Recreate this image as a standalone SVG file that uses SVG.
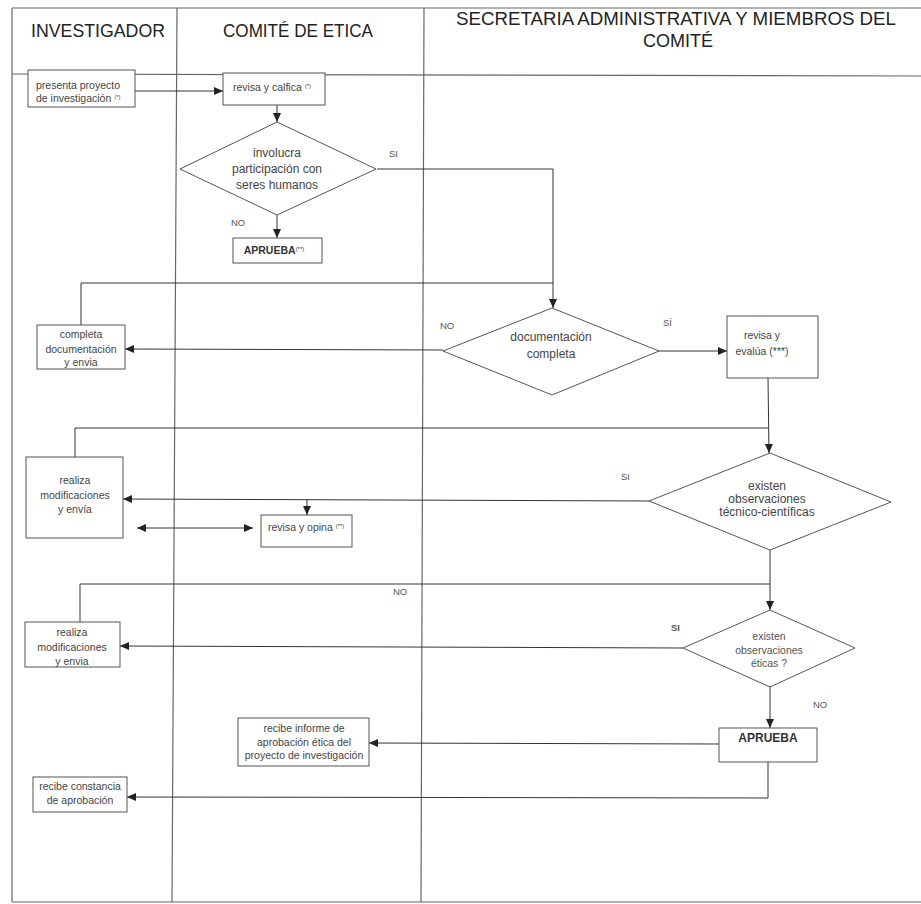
<svg xmlns="http://www.w3.org/2000/svg" width="921" height="904" viewBox="0 0 921 904">
<defs>
<marker id="arr" viewBox="0 0 9 8" refX="9" refY="4" markerWidth="9" markerHeight="8" markerUnits="userSpaceOnUse" orient="auto-start-reverse">
<path d="M0,0 L9,4 L0,8 z" fill="#222"/>
</marker>
<style>
.frame{stroke:#666;stroke-width:1.2;fill:none}
.hd{font-family:"Liberation Sans",Arial,sans-serif;font-size:17.5px;fill:#222}
.box{fill:#fff;stroke:#555;stroke-width:1}
.dia{fill:#fff;stroke:#555;stroke-width:1}
.t{font-family:"Liberation Sans",Arial,sans-serif;font-size:10.5px;fill:#444;text-anchor:middle}
.tl{font-family:"Liberation Sans",Arial,sans-serif;font-size:10.5px;fill:#444}
.td{font-family:"Liberation Sans",Arial,sans-serif;font-size:12px;fill:#444;text-anchor:middle}
.b{font-family:"Liberation Sans",Arial,sans-serif;font-weight:bold;fill:#333;text-anchor:middle}
.sup{font-size:6px}
.lbl{font-family:"Liberation Sans",Arial,sans-serif;font-size:9.5px;fill:#555}
.c{stroke:#333;stroke-width:1;fill:none}
.a{marker-end:url(#arr)}
</style>
</defs>
<rect width="921" height="904" fill="#fff"/>
<g id="frame">
<line class="frame" x1="12" y1="8" x2="921" y2="8"/>
<line class="frame" x1="12" y1="74" x2="921" y2="76"/>
<line class="frame" x1="12" y1="8" x2="12" y2="902"/>
<line class="frame" x1="12" y1="902" x2="921" y2="902"/>
<line class="frame" x1="177" y1="8" x2="172" y2="902"/>
<line class="frame" x1="424" y1="8" x2="421" y2="902"/>
<text class="hd" x="31" y="37" textLength="134" lengthAdjust="spacingAndGlyphs">INVESTIGADOR</text>
<text class="hd" x="223" y="37" textLength="150" lengthAdjust="spacingAndGlyphs">COMITÉ DE ETICA</text>
<text class="hd" x="456" y="25" textLength="440" lengthAdjust="spacingAndGlyphs">SECRETARIA ADMINISTRATIVA Y MIEMBROS DEL</text>
<text class="hd" x="643" y="47" textLength="70" lengthAdjust="spacingAndGlyphs">COMITÉ</text>
</g>
<g id="connectors">
<line class="c a" x1="135" y1="91" x2="223" y2="91"/>
<line class="c a" x1="277" y1="105" x2="277" y2="122"/>
<line class="c a" x1="277" y1="215" x2="277" y2="238"/>
<polyline class="c a" points="377,169 553,169 553,308"/>
<polyline class="c" points="81,325 81,283 553,283"/>
<line class="c a" x1="443" y1="350" x2="125" y2="349"/>
<line class="c a" x1="659" y1="351" x2="727" y2="351"/>
<line class="c a" x1="768" y1="378" x2="769" y2="453"/>
<polyline class="c" points="75,457 75,428 768,428"/>
<line class="c a" x1="649" y1="501" x2="123" y2="499"/>
<line class="c a" x1="307" y1="499" x2="307" y2="515"/>
<line class="c a" x1="137" y1="528" x2="253" y2="528" marker-start="url(#arr)"/>
<line class="c a" x1="770" y1="550" x2="770" y2="610"/>
<polyline class="c" points="80,622 80,584 770,584"/>
<line class="c a" x1="683" y1="648" x2="120" y2="646"/>
<line class="c a" x1="770" y1="687" x2="770" y2="728"/>
<line class="c a" x1="719" y1="744" x2="369" y2="743"/>
<polyline class="c a" points="768,762 768,798 127,797"/>
</g>
<g id="presenta">
<rect class="box" x="28" y="70" width="107" height="37"/>
<text class="tl" x="36" y="89">presenta proyecto</text>
<text class="tl" x="36" y="102">de investigación <tspan class="sup" dy="-3">(*)</tspan></text>
</g>
<g id="revisa-califica">
<rect class="box" x="223" y="73" width="102" height="32"/>
<text class="t" x="272" y="91">revisa y calfica <tspan class="sup" dy="-3">(*)</tspan></text>
</g>
<g id="involucra">
<polygon class="dia" points="277,122 376,169 277,215 180,169"/>
<text class="td" x="277" y="157">involucra</text>
<text class="td" x="277" y="173">participación con</text>
<text class="td" x="277" y="189">seres humanos</text>
</g>
<g id="aprueba1">
<rect class="box" x="233" y="238" width="89" height="25"/>
<text class="b" x="274" y="254" font-size="10.5">APRUEBA<tspan class="sup" dy="-3" font-weight="normal">(**)</tspan></text>
</g>
<g id="completa">
<rect class="box" x="37" y="325" width="88" height="44"/>
<text class="t" x="81" y="338">completa</text>
<text class="t" x="81" y="353">documentación</text>
<text class="t" x="81" y="366">y envia</text>
</g>
<g id="documentacion">
<polygon class="dia" points="552,308 659,351 552,395 443,351"/>
<text class="td" x="551" y="341">documentación</text>
<text class="td" x="551" y="358">completa</text>
</g>
<g id="revisa-evalua">
<rect class="box" x="727" y="316" width="91" height="62"/>
<text class="t" x="762" y="339" font-size="11">revisa  y</text>
<text class="t" x="762" y="355" font-size="11">evalúa (***)</text>
</g>
<g id="realiza1">
<rect class="box" x="26" y="457" width="97" height="81"/>
<text class="t" x="75" y="484">realiza</text>
<text class="t" x="75" y="499">modificaciones</text>
<text class="t" x="75" y="513">y envía</text>
</g>
<g id="tecnico">
<polygon class="dia" points="770,453 891,502 770,550 649,501"/>
<text class="td" x="767" y="490" font-size="11.5">existen</text>
<text class="td" x="767" y="503" font-size="11.5">observaciones</text>
<text class="td" x="767" y="516" font-size="11.5">técnico-científicas</text>
</g>
<g id="revisa-opina">
<rect class="box" x="261" y="515" width="91" height="32"/>
<text class="tl" x="268" y="531">revisa y opina <tspan class="sup" dy="-3">(**)</tspan></text>
</g>
<g id="realiza2">
<rect class="box" x="25" y="622" width="95" height="45"/>
<text class="t" x="72" y="636">realiza</text>
<text class="t" x="72" y="651">modificaciones</text>
<text class="t" x="72" y="665">y envia</text>
</g>
<g id="eticas">
<polygon class="dia" points="770,610 855,648 770,687 683,648"/>
<text class="t" x="769" y="640" style="fill:#555">existen</text>
<text class="t" x="769" y="654" style="fill:#555">observaciones</text>
<text class="t" x="769" y="667" style="fill:#555">éticas ?</text>
</g>
<g id="aprueba2">
<rect class="box" x="719" y="728" width="98" height="34"/>
<text class="b" x="768" y="742" font-size="12">APRUEBA</text>
</g>
<g id="informe">
<rect class="box" x="238" y="718" width="131" height="48"/>
<text class="t" x="304" y="732">recibe informe de</text>
<text class="t" x="304" y="746">aprobación ética del</text>
<text class="t" x="304" y="759">proyecto de investigación</text>
</g>
<g id="constancia">
<rect class="box" x="33" y="777" width="94" height="35"/>
<text class="t" x="80" y="790" font-size="11">recibe constancia</text>
<text class="t" x="80" y="804" font-size="11">de aprobación</text>
</g>
<g id="labels">
<text class="lbl" x="231" y="226">NO</text>
<text class="lbl" x="389" y="157">SI</text>
<text class="lbl" x="440" y="329">NO</text>
<text class="lbl" x="663" y="326">SÍ</text>
<text class="lbl" x="621" y="480">SI</text>
<text class="lbl" x="393" y="595">NO</text>
<text class="lbl" x="671" y="631" font-weight="bold" fill="#333">SI</text>
<text class="lbl" x="813" y="708">NO</text>
</g>
</svg>
